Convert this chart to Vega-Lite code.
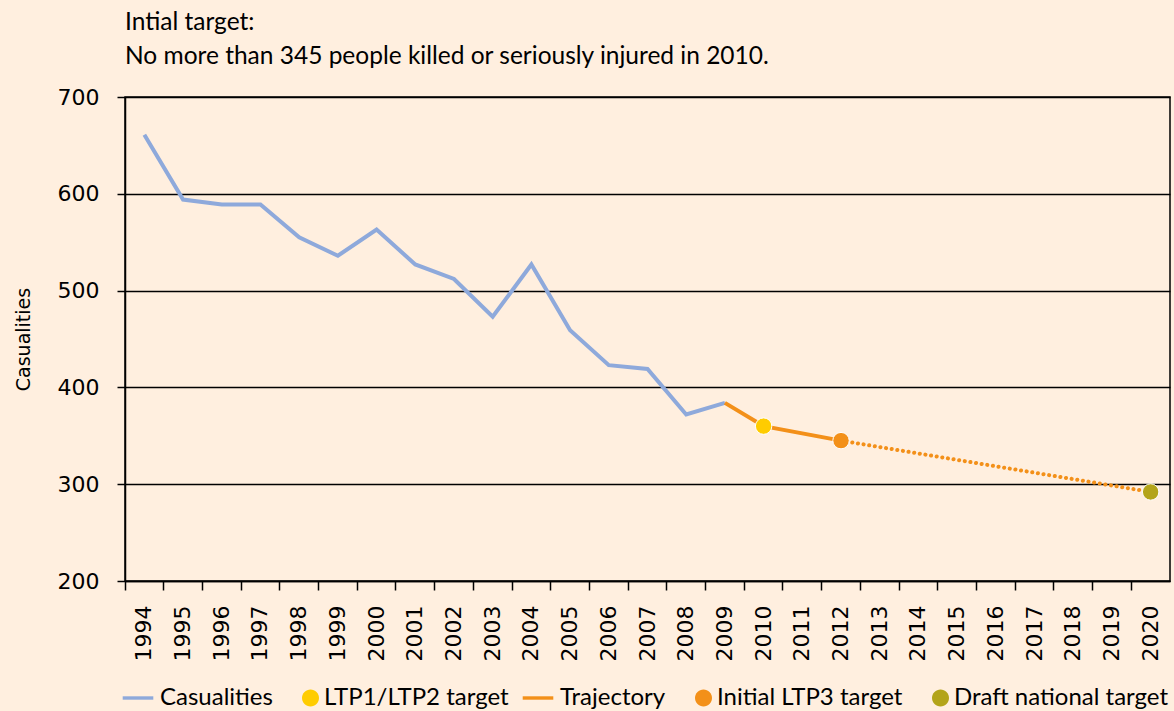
{
  "$schema": "https://vega.github.io/schema/vega-lite/v6.json",
  "autosize": {"type": "none"},
  "width": 1045,
  "height": 484,
  "padding": {"left": 125, "top": 97, "right": 4, "bottom": 130},
  "background": "#FFEFDF",
  "config": {
    "view": {"stroke": "black", "strokeWidth": 1.5},
    "font": "DejaVu Sans"
  },
  "title": {
    "text": ["Intial target:", "No more than 345 people killed or seriously injured in 2010."],
    "anchor": "start",
    "frame": "group",
    "font": "Lato",
    "fontSize": 24.5,
    "fontWeight": "normal",
    "lineHeight": 34,
    "color": "black",
    "offset": 17
  },
  "datasets": {
    "casualties": [
      {"year": "1994", "value": 661},
      {"year": "1995", "value": 594},
      {"year": "1996", "value": 589},
      {"year": "1997", "value": 589},
      {"year": "1998", "value": 555},
      {"year": "1999", "value": 536},
      {"year": "2000", "value": 563},
      {"year": "2001", "value": 527},
      {"year": "2002", "value": 512},
      {"year": "2003", "value": 473},
      {"year": "2004", "value": 527},
      {"year": "2005", "value": 459},
      {"year": "2006", "value": 423},
      {"year": "2007", "value": 419},
      {"year": "2008", "value": 372},
      {"year": "2009", "value": 384}
    ],
    "trajectory": [
      {"year": "2009", "value": 384},
      {"year": "2010", "value": 360},
      {"year": "2012", "value": 345}
    ],
    "projection": [
      {"year": "2012", "value": 345},
      {"year": "2020", "value": 292}
    ],
    "targets": [
      {"year": "2010", "value": 360, "series": "LTP1/LTP2 target"},
      {"year": "2012", "value": 345, "series": "Initial LTP3 target"},
      {"year": "2020", "value": 292, "series": "Draft national target"}
    ]
  },
  "encoding": {
    "x": {
      "field": "year",
      "type": "ordinal",
      "bandPosition": 0.5,
      "scale": {
        "type": "band",
        "paddingInner": 0,
        "paddingOuter": 0,
        "domain": ["1994","1995","1996","1997","1998","1999","2000","2001","2002","2003","2004","2005","2006","2007","2008","2009","2010","2011","2012","2013","2014","2015","2016","2017","2018","2019","2020"]
      },
      "axis": {
        "title": null,
        "bandPosition": 0,
        "labelAngle": -90,
        "labelAlign": "right",
        "labelBaseline": "middle",
        "labelFont": "DejaVu Sans",
        "labelFontSize": 22,
        "labelColor": "black",
        "labelPadding": 15,
        "tickSize": 9,
        "tickColor": "black",
        "tickWidth": 1.5,
        "domainColor": "black",
        "domainWidth": 1.5,
        "grid": false
      }
    },
    "y": {
      "field": "value",
      "type": "quantitative",
      "scale": {"domain": [200, 700], "nice": false, "zero": false},
      "axis": {
        "title": "Casualities",
        "titleFont": "DejaVu Sans",
        "titleFontSize": 19,
        "titleFontWeight": "normal",
        "titleColor": "black",
        "titlePadding": 24,
        "values": [200, 300, 400, 500, 600, 700],
        "labelFont": "DejaVu Sans",
        "labelFontSize": 22,
        "labelColor": "black",
        "labelPadding": 18,
        "tickSize": 8,
        "tickColor": "black",
        "tickWidth": 1.5,
        "domainColor": "black",
        "domainWidth": 1.5,
        "grid": true,
        "gridColor": "black",
        "gridWidth": 1.5,
        "gridOpacity": 1
      }
    }
  },
  "layer": [
    {
      "data": {"name": "casualties"},
      "mark": {"type": "line", "color": "#8EA9DB", "strokeWidth": 4}
    },
    {
      "data": {"name": "trajectory"},
      "mark": {"type": "line", "color": "#F39019", "strokeWidth": 4}
    },
    {
      "data": {"name": "projection"},
      "mark": {"type": "line", "color": "#F39019", "strokeWidth": 4, "strokeDash": [0.1, 5.6], "strokeCap": "round"}
    },
    {
      "data": {"name": "targets"},
      "mark": {"type": "point", "filled": true, "opacity": 0},
      "encoding": {
        "color": {
          "field": "series",
          "type": "nominal",
          "scale": {
            "domain": ["Casualities", "LTP1/LTP2 target", "Trajectory", "Initial LTP3 target", "Draft national target"],
            "range": ["#8EA9DB", "#FFCC00", "#F39019", "#F39019", "#B3A419"]
          }
        },
        "shape": {
          "field": "series",
          "type": "nominal",
          "scale": {
            "domain": ["Casualities", "LTP1/LTP2 target", "Trajectory", "Initial LTP3 target", "Draft national target"],
            "range": [
              "M-0.9,-0.1H0.9V0.1H-0.9Z",
              "M1,0A0.5,0.5 0 1,1 0,0A0.5,0.5 0 1,1 1,0Z",
              "M-0.9,-0.1H0.9V0.1H-0.9Z",
              "M1,0A0.5,0.5 0 1,1 0,0A0.5,0.5 0 1,1 1,0Z",
              "M1,0A0.5,0.5 0 1,1 0,0A0.5,0.5 0 1,1 1,0Z"
            ]
          },
          "legend": {
            "title": null,
            "orient": "none",
            "direction": "horizontal",
            "legendX": -4,
            "legendY": 584,
            "symbolSize": 1156,
            "symbolStrokeWidth": 0,
            "symbolOpacity": 1,
            "labelFont": "Lato",
            "labelFontSize": 24,
            "labelColor": "black",
            "labelOffset": 5,
            "labelLimit": 0,
            "columnPadding": 12
          }
        }
      }
    },
    {
      "data": {"name": "targets"},
      "mark": {"type": "point", "filled": true, "shape": "circle", "size": 270, "opacity": 1, "stroke": "white", "strokeWidth": 1},
      "encoding": {
        "color": {"field": "series", "type": "nominal"}
      }
    }
  ]
}
